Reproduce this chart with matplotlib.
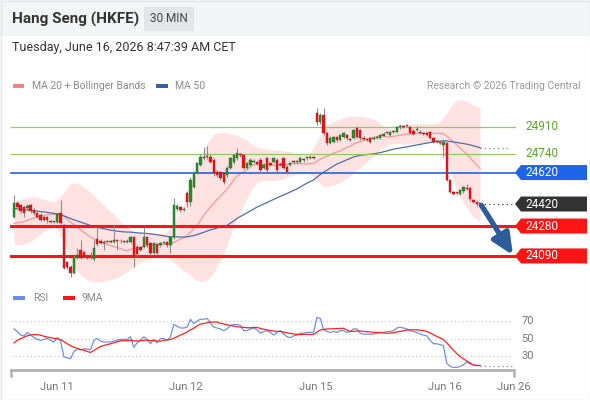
import numpy as np
import pandas as pd
import matplotlib
matplotlib.use("Agg")
import matplotlib.pyplot as plt
from matplotlib.patches import Polygon, Rectangle
from matplotlib.lines import Line2D

plt.rcParams['font.family'] = ['Roboto', 'DejaVu Sans']

# ---------------- data ----------------
title = "Hang Seng (HKFE)"
timeframe = "30 MIN"
timestamp = "Tuesday, June 16, 2026 8:47:39 AM CET"
copyright_text = "Research \u00a9 2026 Trading Central"

opens = [24340, 24425, 24414, 24400, 24395, 24414, 24382, 24363, 24350, 24338,
         24338, 24310, 24306, 24306, 24363, 24287, 24052, 24020, 23982, 24077,
         24128, 24115, 24082, 24080, 24070, 24200, 24185, 24180, 24178, 24182,
         24180, 24190, 24182, 24185, 24180, 24180, 24210, 24150, 24145, 24150,
         24210, 24170, 24108, 24165, 24160, 24172, 24180, 24160, 24213, 24390,
         24400, 24385, 24490, 24430, 24530, 24620, 24670, 24715, 24718, 24720,
         24700, 24622, 24623, 24617, 24605, 24649, 24687, 24712, 24735, 24732,
         24649, 24668, 24690, 24685, 24700, 24650, 24712, 24680, 24690, 24700,
         24675, 24712, 24655, 24670, 24690, 24685, 24690, 24700, 24710, 24712,
         24715, 24999, 24942, 24986, 24872, 24808, 24814, 24843, 24827, 24846,
         24858, 24830, 24840, 24904, 24891, 24842, 24830, 24840, 24835, 24842,
         24840, 24855, 24872, 24859, 24878, 24878, 24910, 24916, 24915, 24910,
         24885, 24890, 24880, 24870, 24870, 24878, 24840, 24820, 24812, 24795,
         24808, 24572, 24495, 24490, 24482, 24500, 24520, 24521, 24448, 24432,
         24420]
closes = [24425, 24400, 24376, 24363, 24408, 24376, 24363, 24338, 24318, 24318,
          24320, 24306, 24308, 24357, 24300, 24014, 24020, 23982, 24077, 24096,
          24077, 24084, 24078, 24082, 24140, 24165, 24175, 24175, 24182, 24180,
          24190, 24182, 24185, 24180, 24188, 24210, 24085, 24100, 24130, 24210,
          24160, 24108, 24170, 24108, 24170, 24175, 24160, 24213, 24414, 24410,
          24380, 24390, 24430, 24575, 24620, 24680, 24720, 24712, 24722, 24690,
          24620, 24606, 24585, 24560, 24649, 24712, 24732, 24744, 24730, 24649,
          24681, 24700, 24695, 24675, 24636, 24665, 24636, 24670, 24712, 24636,
          24668, 24649, 24623, 24680, 24685, 24690, 24712, 24705, 24712, 24715,
          24712, 24942, 24986, 24872, 24808, 24840, 24846, 24827, 24859, 24872,
          24840, 24827, 24891, 24846, 24840, 24832, 24828, 24814, 24840, 24845,
          24859, 24866, 24870, 24878, 24880, 24910, 24918, 24912, 24918, 24872,
          24868, 24900, 24872, 24865, 24860, 24840, 24814, 24814, 24808, 24815,
          24572, 24496, 24484, 24488, 24510, 24528, 24518, 24450, 24432, 24420,
          24420]
highs = [24478, 24440, 24420, 24405, 24418, 24420, 24392, 24370, 24360, 24345,
         24345, 24318, 24315, 24365, 24446, 24292, 24060, 24030, 24090, 24141,
         24192, 24122, 24090, 24115, 24190, 24275, 24195, 24190, 24192, 24190,
         24285, 24198, 24195, 24192, 24196, 24218, 24215, 24160, 24150, 24276,
         24218, 24178, 24178, 24172, 24180, 24182, 24188, 24220, 24459, 24420,
         24410, 24400, 24500, 24590, 24630, 24690, 24735, 24780, 24790, 24735,
         24710, 24635, 24630, 24625, 24660, 24720, 24740, 24776, 24745, 24740,
         24690, 24710, 24705, 24695, 24710, 24680, 24720, 24690, 24720, 24710,
         24690, 24720, 24665, 24690, 24700, 24700, 24720, 24715, 24725, 24730,
         24725, 25031, 25000, 25031, 24880, 24850, 24855, 24850, 24865, 24880,
         24865, 24840, 24900, 24910, 24895, 24850, 24838, 24845, 24850, 24852,
         24865, 24875, 24880, 24885, 24890, 24915, 24930, 24925, 24925, 24915,
         24895, 24915, 24888, 24878, 24878, 24882, 24845, 24826, 24818, 24820,
         24812, 24578, 24502, 24497, 24515, 24535, 24545, 24530, 24455, 24438,
         24428]
lows = [24330, 24390, 24365, 24338, 24385, 24365, 24350, 24330, 24310, 24310,
        24300, 24300, 24300, 24300, 24292, 24005, 24005, 23957, 23975, 24070,
        24070, 24075, 24068, 24072, 24060, 24155, 24165, 24130, 24170, 24172,
        24172, 24128, 24175, 24172, 24172, 24172, 24022, 24090, 24120, 24140,
        24150, 24098, 24098, 24100, 24150, 24165, 24150, 24110, 24200, 24375,
        24370, 24375, 24400, 24410, 24520, 24610, 24660, 24700, 24705, 24680,
        24600, 24590, 24570, 24545, 24590, 24640, 24675, 24700, 24720, 24640,
        24640, 24660, 24680, 24665, 24625, 24640, 24625, 24660, 24680, 24625,
        24660, 24640, 24610, 24660, 24675, 24675, 24680, 24690, 24700, 24705,
        24705, 24923, 24930, 24860, 24795, 24800, 24805, 24815, 24820, 24840,
        24830, 24820, 24835, 24840, 24830, 24825, 24820, 24805, 24830, 24835,
        24835, 24850, 24862, 24850, 24870, 24870, 24900, 24905, 24908, 24865,
        24860, 24885, 24865, 24858, 24852, 24832, 24808, 24805, 24800, 24720,
        24565, 24490, 24475, 24480, 24475, 24492, 24510, 24440, 24425, 24410,
        24412]
# closes before the first visible bar (seed for the moving averages)
prior_closes = [24480, 24500, 24520, 24510, 24490, 24470, 24480, 24460, 24440, 24450,
                24470, 24490, 24500, 24480, 24460, 24440, 24430, 24450, 24470, 24460,
                24440, 24420, 24430, 24450, 24440, 24420, 24400, 24410, 24390, 24370,
                24330, 24300, 24280, 24250, 24230, 24210, 24200, 24220, 24240, 24230,
                24260, 24280, 24300, 24310, 24340, 24360, 24380, 24390, 24410]

rsi = [61, 58, 54, 53, 57, 54, 51, 49, 48, 49,
       50, 48, 46, 51, 47, 29, 28, 27, 35, 38,
       37, 38, 38, 37, 48, 50, 47, 46, 46, 46,
       47, 48, 49, 49, 49, 52, 40, 45, 48, 52,
       49, 44, 49, 45, 50, 50, 48, 52, 66, 64,
       62, 62, 63, 72, 67, 70, 72, 72, 73, 68,
       63, 62, 61, 59, 61, 65, 66, 66, 65, 59,
       59, 61, 62, 60, 56, 58, 59, 57, 54, 57,
       59, 55, 52, 51, 53, 54, 56, 56, 57, 57,
       57, 74, 73, 60, 58, 57, 58, 57, 59, 59,
       57, 58, 61, 61, 56, 55, 55, 55, 55, 56,
       57, 57, 58, 58, 59, 62, 63, 62, 61, 59,
       58, 57, 55, 54, 53, 48, 44, 44, 43, 42,
       22, 18, 17, 17, 18, 20, 23, 21, 20, 19, 19]
prior_rsi = [32, 36, 39, 42, 45, 48, 50, 52]

day_labels = ["Jun 11", "Jun 12", "Jun 15", "Jun 16", "Jun 26"]
day_index = [12.8, 51.7, 90.7, 129.4, 150.0]

resistance_levels = [24910, 24740]
pivot_level = 24620
last_price = 24420
support_levels = [24280, 24090]
target_price = 24090
rsi_levels = [70, 50, 30]

legend_main = ["MA 20 + Bollinger Bands", "MA 50"]
legend_rsi = ["RSI", "9MA"]

# ---------------- derived indicators ----------------
o = np.array(opens, float)
c = np.array(closes, float)
h = np.array(highs, float)
l = np.array(lows, float)
n = len(c)
idx = np.arange(n)

allc = pd.Series(prior_closes + closes, dtype=float)
ma20_s = allc.rolling(20).mean()
sd20_s = allc.rolling(20).std(ddof=0)
ma20 = ma20_s.to_numpy()[-n:]
ma50 = allc.rolling(50).mean().to_numpy()[-n:]
# the band outline is drawn softened, as on the source chart
upper = (ma20_s + 2 * sd20_s).rolling(5, center=True, min_periods=1).mean().to_numpy()[-n:]
lower = (ma20_s - 2 * sd20_s).rolling(5, center=True, min_periods=1).mean().to_numpy()[-n:]
allr = pd.Series(prior_rsi + rsi, dtype=float)
rsi_ma = allr.rolling(9).mean().to_numpy()[-n:]

# ---------------- figure ----------------
W, H = 590, 400
fig = plt.figure(figsize=(W / 100, H / 100), dpi=100)
fig.patch.set_facecolor('white')


def fx(px):
    return px / W


def fy(py):
    return 1 - py / H


# header band and frame
fig.add_artist(Rectangle((0, fy(36)), 1, 36 / H, transform=fig.transFigure,
                         facecolor='#f4f5f6', edgecolor='none', zorder=0))
fig.add_artist(Rectangle((fx(0.5), fy(399.5)), fx(589), 399 / H, transform=fig.transFigure,
                         facecolor='none', edgecolor='#e4e4e4', lw=1, zorder=0))
fig.add_artist(Rectangle((fx(144), fy(31)), fx(50), 24 / H, transform=fig.transFigure,
                         facecolor='#e3e5e8', edgecolor='none', zorder=1))
fig.text(fx(12), fy(19), title, fontsize=11, fontweight='bold', color='#333333', va='center')
fig.text(fx(169), fy(19), timeframe, fontsize=8.5, color='#444444', va='center', ha='center')
fig.text(fx(12), fy(48), timestamp, fontsize=9, color='#333333', va='center')

# main legend
fig.add_artist(Rectangle((fx(13), fy(88)), fx(11), 4 / H, transform=fig.transFigure,
                         facecolor='#f08282', edgecolor='none'))
fig.text(fx(32), fy(86), legend_main[0], fontsize=7.5, color='#8a8a8a', va='center')
fig.add_artist(Rectangle((fx(156), fy(88)), fx(12), 4 / H, transform=fig.transFigure,
                         facecolor='#36609e', edgecolor='none'))
fig.text(fx(175), fy(86), legend_main[1], fontsize=7.5, color='#8a8a8a', va='center')
fig.text(fx(581), fy(86), copyright_text, fontsize=7.5, color='#9a9a9a', va='center', ha='right')

# ---------------- main chart ----------------
ax = fig.add_axes([fx(11), fy(283), fx(513) - fx(11), fy(95) - fy(283)])
ax.set_xlim(-0.9, 149.9)
ax.set_ylim(23918, 25113)
ax.axis('off')
x_tag = 150.5  # where the level lines meet the price tags

ax.fill_between(idx, lower, upper, color='#ffe2e2', lw=0, zorder=1)
ax.plot(idx, ma20, color='#f39a9a', lw=0.9, zorder=2)
ax.plot(idx, ma50, color='#4d6fa6', lw=0.9, zorder=2)
ax.plot([idx[-1], x_tag - 1.5], [ma50[-1], ma50[-1]], color='#6c87b5', lw=0.9,
        ls=(0, (1, 2.5)), zorder=2, clip_on=False)

for lvl in resistance_levels:
    ax.plot([-0.9, x_tag], [lvl, lvl], color='#93c865', lw=0.9, zorder=2, clip_on=False)
ax.plot([-0.9, x_tag], [pivot_level, pivot_level], color='#1f63e6', lw=1.2, zorder=2, clip_on=False)
for lvl in support_levels:
    ax.plot([-0.9, x_tag], [lvl, lvl], color='#ff1414', lw=2.2, zorder=2, clip_on=False)
ax.plot([idx[-1], x_tag], [last_price, last_price], color='#444444', lw=0.9,
        ls=(0, (1, 2.5)), zorder=2, clip_on=False)

# candles
up = c >= o
ax.vlines(idx, l, h, color='#8c8c8c', lw=0.8, zorder=3)
body_bot = np.minimum(o, c)
body_h = np.maximum(np.abs(c - o), 6)
ax.bar(idx, body_h, bottom=body_bot, width=0.72,
       color=np.where(up, '#2d8a2d', '#e0181c'),
       edgecolor=np.where(up, '#246e24', '#b81216'), lw=0.3, zorder=4)

# arrow
ax.annotate('', xy=(149.9, target_price + 5), xytext=(140.4, last_price - 8),
            arrowprops=dict(arrowstyle='-|>,head_length=0.7,head_width=0.32', lw=3.8,
                            color='#2d5c9b', mutation_scale=18, shrinkA=0, shrinkB=0),
            annotation_clip=False, zorder=6)


def level_y(price):
    return fig.transFigure.inverted().transform(ax.transData.transform((0, price)))[1]


def tag(price, color, text):
    yf = level_y(price)
    hh = 7.5 / H
    pts = [(fx(515), yf), (fx(521), yf + hh), (fx(587), yf + hh), (fx(587), yf - hh), (fx(521), yf - hh)]
    fig.add_artist(Polygon(pts, closed=True, transform=fig.transFigure,
                           facecolor=color, edgecolor='none', zorder=5))
    fig.text(fx(525), yf, text, fontsize=8.5, color='white', va='center', ha='left', zorder=6)


for lvl in resistance_levels:
    fig.text(fx(525), level_y(lvl), f"{lvl}", fontsize=8.5, color='#5ea52e', va='center', ha='left')
tag(pivot_level, '#1f63e6', f"{pivot_level}")
tag(last_price, '#333333', f"{last_price}")
for lvl in support_levels:
    tag(lvl, '#ff1414', f"{lvl}")

# ---------------- RSI panel ----------------
fig.add_artist(Rectangle((fx(13), fy(300)), fx(12), 4 / H, transform=fig.transFigure,
                         facecolor='#6b8de6', edgecolor='none'))
fig.text(fx(33), fy(298), legend_rsi[0], fontsize=7.5, color='#8a8a8a', va='center')
fig.add_artist(Rectangle((fx(63), fy(300)), fx(12), 4 / H, transform=fig.transFigure,
                         facecolor='#ff1414', edgecolor='none'))
fig.text(fx(82), fy(298), legend_rsi[1], fontsize=7.5, color='#8a8a8a', va='center')

ax2 = fig.add_axes([fx(11), fy(370), fx(513) - fx(11), fy(310) - fy(370)])
ax2.set_xlim(-0.9, 149.9)
ax2.set_ylim(14, 82.6)
for s in ['top', 'left', 'right']:
    ax2.spines[s].set_visible(False)
ax2.spines['bottom'].set_color('#b3b3b3')
ax2.spines['bottom'].set_linewidth(2)
ax2.set_xticks([])
ax2.set_yticks([])
ax2.set_facecolor('none')
ax2.hlines(rsi_levels, -0.9, 149.9, colors='#c4c4c4', lw=0.8, linestyles=(0, (1, 2.5)), zorder=1)
for v in rsi_levels:
    ax2.text(152.5, v, f"{v}", fontsize=8, color='#777777', va='center', ha='left', clip_on=False)
ax2.plot(idx, rsi, color='#7090e8', lw=0.9, zorder=3)
ax2.plot(idx, rsi_ma, color='#ff2222', lw=0.9, zorder=4)
ax2.plot([idx[-1], 150.5], [rsi[-1], rsi[-1]], color='#7090e8', lw=0.9,
         ls=(0, (1, 2.5)), clip_on=False, zorder=3)

# axis end ticks
for xp in (11, 513.5):
    fig.add_artist(Line2D([fx(xp), fx(xp)], [fy(370), fy(376)], transform=fig.transFigure,
                          color='#b3b3b3', lw=1.8))
for lab, pos in zip(day_labels, day_index):
    ax2.text(pos, -0.28, lab, transform=ax2.get_xaxis_transform(), fontsize=8, color='#777777',
             ha='center', va='center', clip_on=False)

fig.savefig('out.png', dpi=100)
